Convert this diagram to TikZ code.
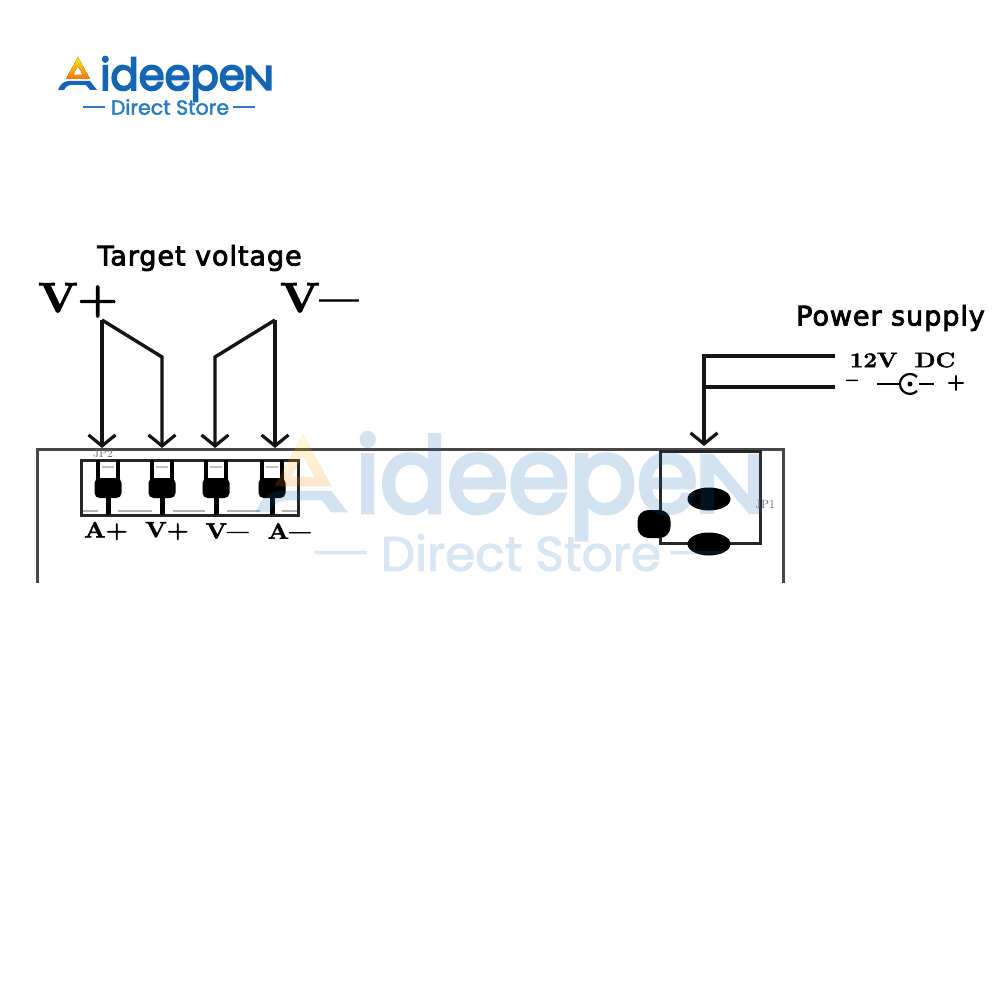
\documentclass[tikz,border=0pt]{standalone}
\usepackage{fontspec}
\usetikzlibrary{arrows.meta,shapes.geometric}
\newfontfamily\labfont[LetterSpace=3.5]{DejaVu Sans}
\newfontfamily\logofont{Poppins}
\definecolor{logoblue}{HTML}{1565B5}
\definecolor{logolight}{HTML}{2A7BC0}
\newcommand\fsz[1]{\fontsize{#1}{#1}\selectfont}
\newcommand\bolder[2]{\special{pdf:code 2 Tr #1 w}#2\special{pdf:code 0 Tr 1 w}}
\newcommand\dashch{\scalebox{.75}[1]{\textemdash}}
\newcommand\aidlogo{%
  \fill[top color=yellow!85!orange,bottom color=orange!90!red,even odd rule]
    (78,57) -- (90,79) -- (66,79) -- cycle (78,66) -- (73,75) -- (83,75) -- cycle;
  \fill[logoblue] (58,90) .. controls (60,85) and (63,81) .. (69,81) -- (90,81)
    -- (97,90) -- (90,90) -- (86,85) -- (70,85) .. controls (67,85) and (65,88) .. (64,90) -- cycle;
  \node[logotext,anchor=base west,xscale=.95] (lgi) at (100,90) {\fsz{44}\color{logoblue}\bolder{1.8}{ideepe}};
  \node[logotext,anchor=base west,yscale=.78] (lgn) at (243,90) {\fsz{44}\color{logoblue}\bolder{1.8}{N}};
  \node[anchor=center] (lgd) at (170,107) {\logofont\fsz{20.5}\color{logolight}\bolder{.4}{Direct Store}};
  \draw[logolight,logodash] (83,107) -- (105,107) (233,107) -- (255,107);
}
\tikzset{
  logodash/.style={line width=1.6pt},
  wire/.style={line width=3.4pt,black!92},
  arrowwire/.style={wire,line join=miter,-{Straight Barb[length=11pt,width=27pt,line width=3.2pt]}},
  frame/.style={line width=3pt,black!72},
  boxline/.style={line width=3pt,black!85},
  logotext/.style={inner sep=0pt,font=\logofont},
  serifbold/.style={inner sep=0pt,font=\bfseries\fsz{22},xscale=1.15},
  biglabel/.style={inner sep=0pt,font=\bfseries\fsz{42},xscale=1.1},
  sanslabel/.style={inner sep=0pt,font=\labfont\fsz{27},text=black},
  tiny/.style={inner sep=0pt,font=\fsz{12},text=black!60},
  blob/.style={fill=black,draw=none,inner sep=0pt},
}
\begin{document}
\begin{tikzpicture}[x=1pt,y=-1pt]
\useasboundingbox (0,0) rectangle (1000,1000);
\fill[white] (0,0) rectangle (1000,1000);

% top-left logo
\aidlogo

% headings
\node[sanslabel] (target) at (199.5,258) {\bolder{.8}{Target voltage}};
\node[sanslabel] (power) at (890.5,318) {\bolder{.8}{Power supply}};
\node[biglabel,anchor=base west] (vp) at (38,312) {\bolder{1}{V+}};
\node[biglabel,anchor=base west] (vm) at (280,312) {\bolder{1}{V\dashch}};

% enclosure
\draw[frame] (37,583) -- (37,449) -- (783,449) -- (783,583);

% JP2 terminal block
\node[draw,boxline,minimum width=217pt,minimum height=55pt,inner sep=0pt] (jp2) at (189.5,487.5) {};
\node[tiny] (jp2t) at (103,454) {JP2};
\foreach \n/\x in {a/108,b/162,c/216,d/272}{
  \draw[line width=4.5pt] (\x-10,460) -- (\x-10,482) (\x+10,460) -- (\x+10,482);
  \fill[black!25] (\x-6,466) rectangle (\x+6,468);
  \node[blob,rounded corners=5pt,minimum width=27pt,minimum height=20pt] (t\n) at (\x,488) {};
  \draw[line width=5pt] (t\n.south) -- (\x,515);
}
\foreach \a/\b in {83/98,118/152,173/205,227/260,282/297}{\draw[black!30,line width=1.5pt] (\a,511) -- (\b,511);}
\node[serifbold] (la) at (106,531) {\bolder{.5}{A+}};
\node[serifbold] (lb) at (167,531) {\bolder{.5}{V+}};
\node[serifbold] (lc) at (227,531) {\bolder{.5}{V\dashch}};
\node[serifbold] (ld) at (289,531) {\bolder{.5}{A\dashch}};

% wires to JP2
\coordinate (vpa) at (102,320);
\coordinate (vpk) at (162,357);
\coordinate (vma) at (275,320);
\coordinate (vmk) at (215,357);
\coordinate (e1) at (102,448);
\coordinate (e2) at (162,448);
\coordinate (e3) at (215,448);
\coordinate (e4) at (275,448);
\draw[arrowwire] (vpa) -- (e1);
\draw[arrowwire] (vpa) -- (vpk) -- (e2);
\draw[arrowwire] (vma) -- (e4);
\draw[arrowwire] (vma) -- (vmk) -- (e3);

% JP1 socket
\node[draw,boxline,minimum width=100pt,minimum height=92pt,inner sep=0pt] (jp1) at (710,497) {};
\node[tiny] (jp1t) at (765,505) {JP1};
\node[blob,ellipse,minimum width=43pt,minimum height=23pt] (p1) at (709,499) {};
\node[blob,ellipse,minimum width=43pt,minimum height=23pt] (p2) at (709,544) {};
\node[blob,rounded corners=11pt,minimum width=33pt,minimum height=28pt] (p3) at (654,524) {};

% supply wires
\node[serifbold,font=\bfseries\fsz{21}] (v12) at (902.5,360) {\bolder{.4}{12V\hspace{15pt}DC}};
\node[inner sep=0pt,font=\bfseries\fsz{20}] (minus) at (852,383) {\bolder{.8}{\textendash}};
\node[inner sep=0pt,font=\bfseries\fsz{20}] (plus) at (956,383) {\bolder{.8}{+}};
\coordinate (s1) at (835,356);
\coordinate (s2) at (835,387);
\coordinate (sj) at (704,387);
\coordinate (sc) at (704,356);
\coordinate (se) at (704,446);
\draw[arrowwire] (s1) -- (sc) -- (se);
\draw[wire] (s2) -- (sj);

% DC jack symbol
\draw[line width=2pt] (877,384) -- (900,384);
\draw[line width=2.2pt] (917,391) arc[start angle=45,end angle=315,radius=10];
\fill (910,384) circle (2.5);
\draw[line width=2pt] (919,384) -- (934,384);

% watermark
\begin{scope}[transparency group,opacity=.18]
\begin{scope}[shift={(118,299)},scale=2.37,transform shape,logodash/.style={line width=3.6pt}]
\aidlogo
\end{scope}
\end{scope}
\end{tikzpicture}
\end{document}
